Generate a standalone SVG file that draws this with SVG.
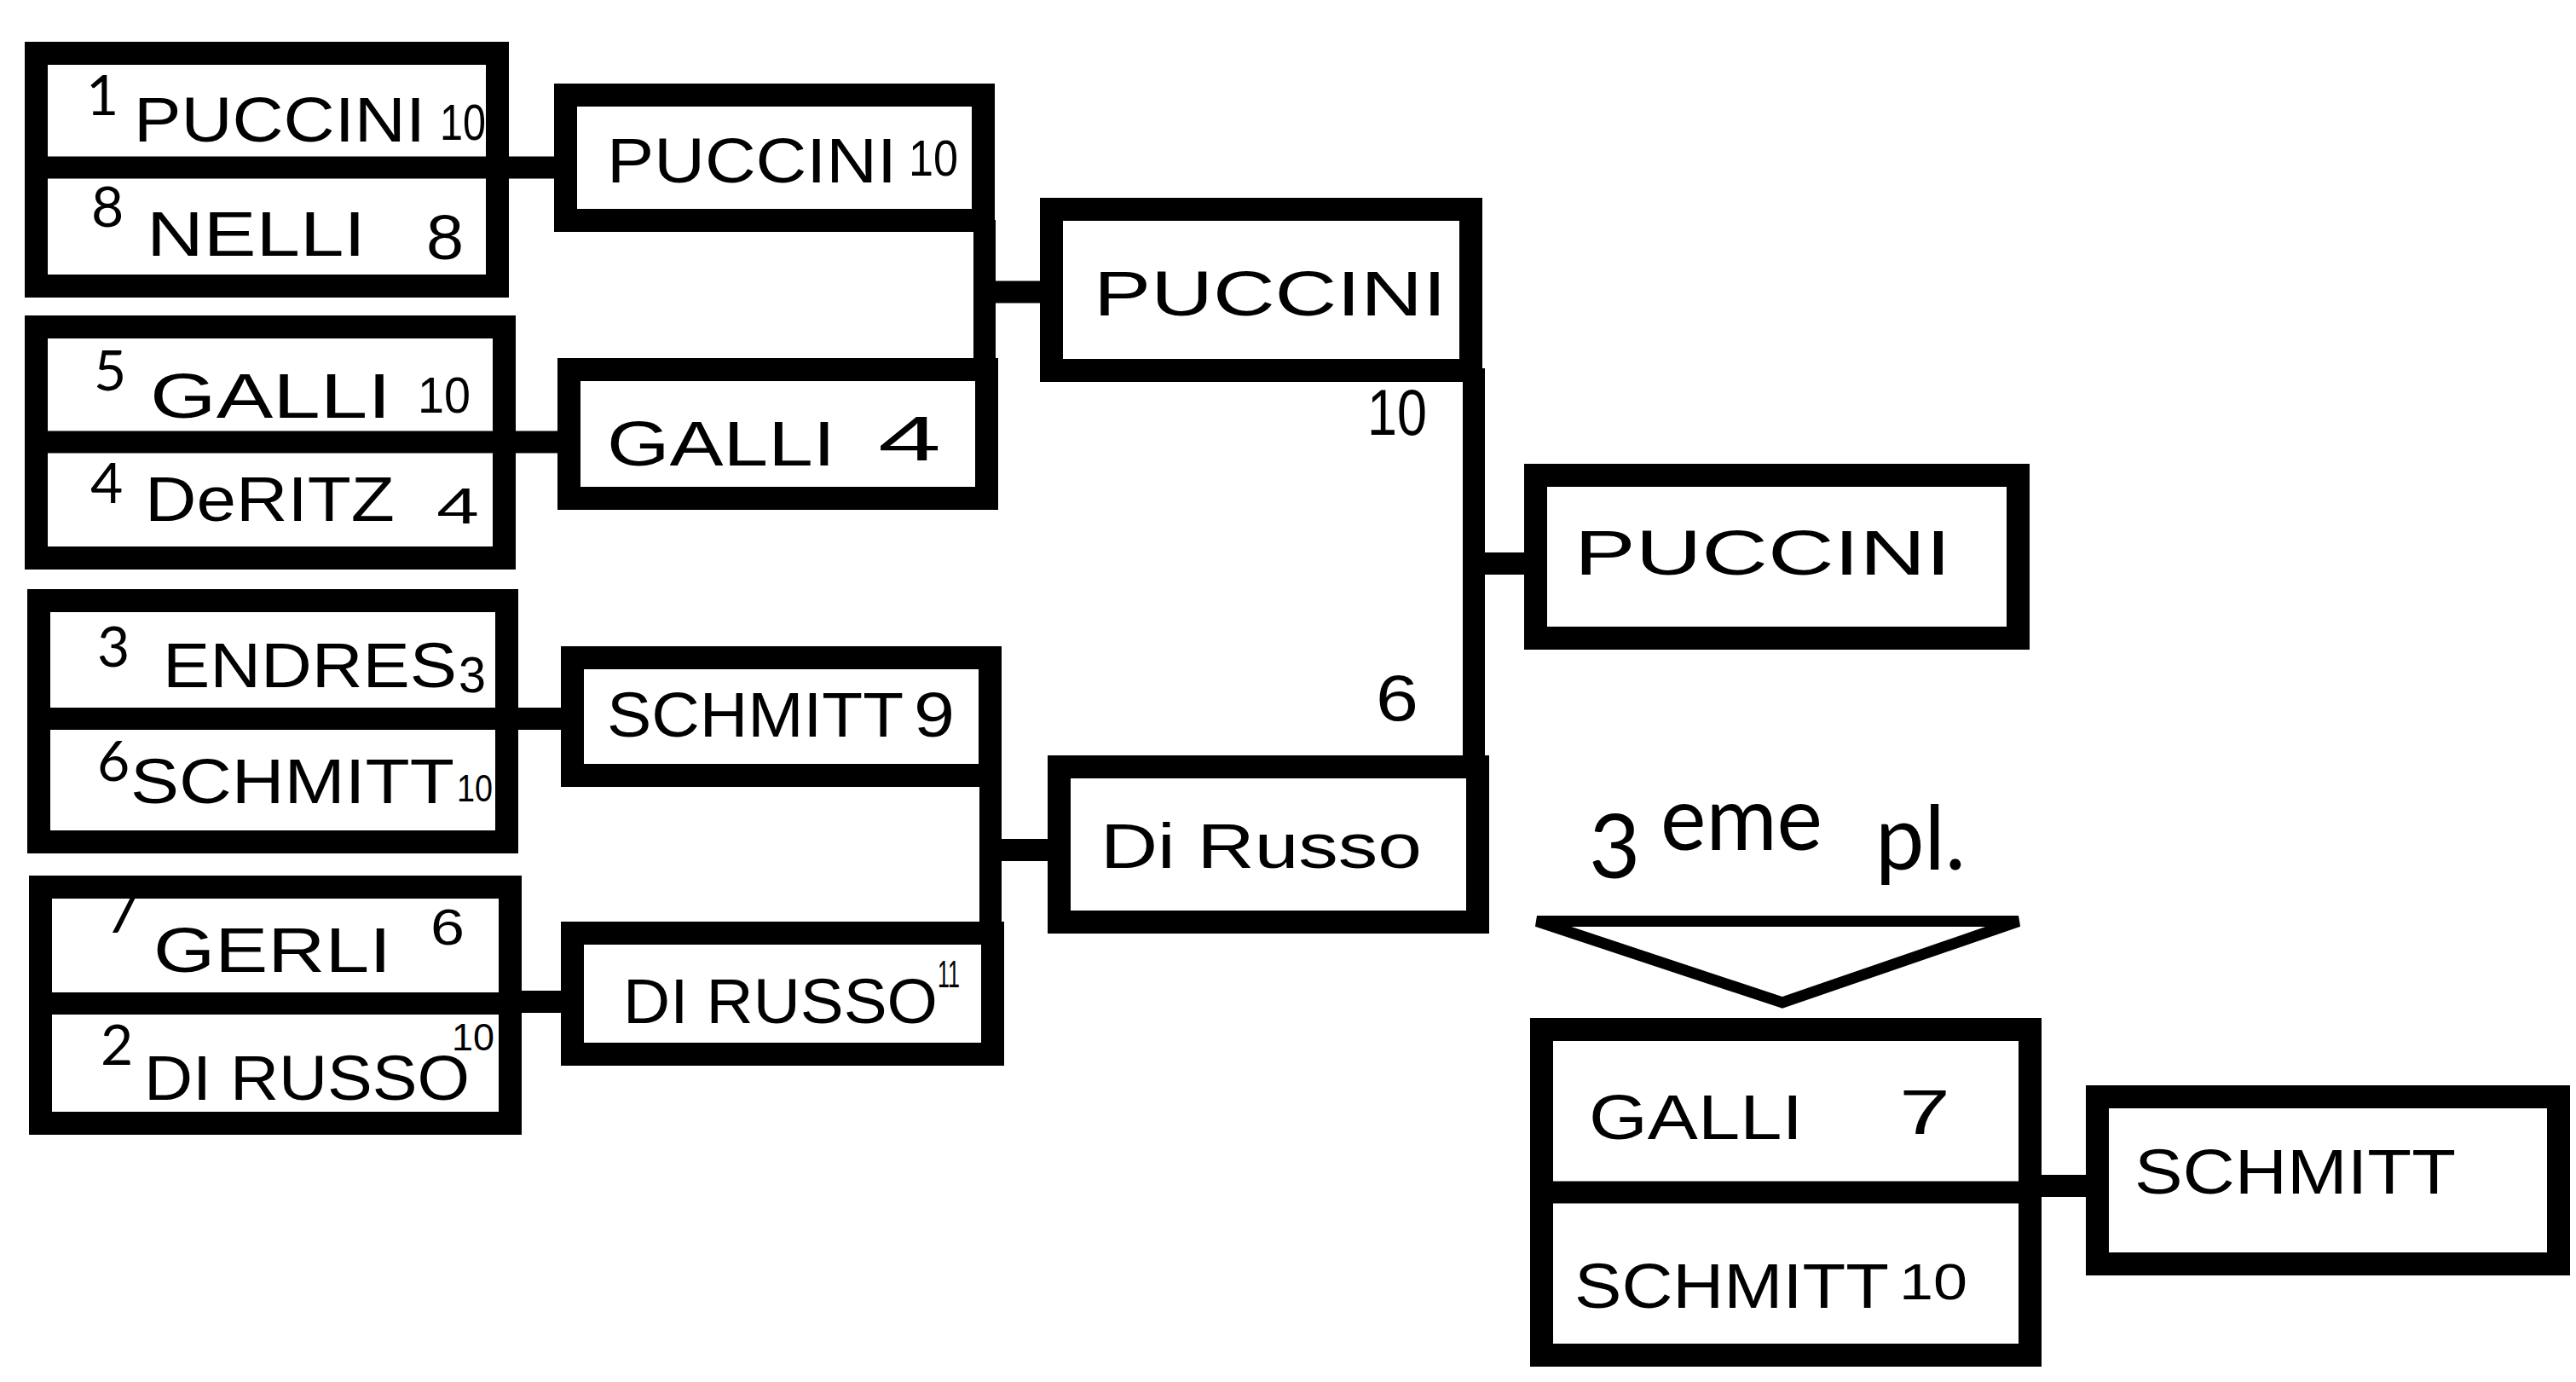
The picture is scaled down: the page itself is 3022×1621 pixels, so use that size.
<svg xmlns="http://www.w3.org/2000/svg" width="3022" height="1621" viewBox="0 0 3022 1621">
<style>
.box{fill:#fff;stroke:#000;stroke-width:27}
.div{stroke:#000;stroke-width:26;fill:none}
.conn{stroke:#000;stroke-width:26;fill:none}
.tri{fill:#fff;stroke:#000;stroke-width:13;stroke-linejoin:miter}
.seed{font-family:Lato,"Open Sans",sans-serif;font-size:66px;fill:#000}
.hw{font-family:"Liberation Sans",Arial,sans-serif;font-size:74px;fill:#000}
.sc{font-family:"Liberation Sans",Arial,sans-serif;font-size:60px;fill:#000}
.big{font-family:"Liberation Sans",Arial,sans-serif;font-size:76px;fill:#000}
.sup{font-family:"Liberation Sans",Arial,sans-serif;font-size:44px;fill:#000}
.lbl{font-family:Lato,"Open Sans",sans-serif;font-size:104px;fill:#000}
</style>
<rect width="3022" height="1621" fill="#fff"/>

<g id="connectors">
<line class="conn" x1="597" y1="196.5" x2="652" y2="196.5"/>
<line class="conn" x1="605" y1="518.5" x2="656" y2="518.5"/>
<line class="conn" x1="608" y1="843" x2="660" y2="843"/>
<line class="conn" x1="612" y1="1175" x2="660" y2="1175"/>
<line class="conn" x1="1155" y1="258" x2="1155" y2="436"/>
<line class="conn" x1="1155" y1="342.5" x2="1222" y2="342.5"/>
<line class="conn" x1="1162" y1="908" x2="1162" y2="1096"/>
<line class="conn" x1="1162" y1="997" x2="1231" y2="997"/>
<line class="conn" x1="1729" y1="432" x2="1729" y2="900"/>
<line class="conn" x1="1729" y1="661" x2="1790" y2="661"/>
<line class="conn" x1="2395" y1="1391" x2="2449" y2="1391"/>
</g>

<g id="r1-match1">
<rect class="box" x="42.5" y="62.5" width="541" height="273"/>
<line class="div" x1="29" y1="196.5" x2="597" y2="196.5"/>
<text class="seed" x="101" y="135">1</text>
<text class="hw" x="157" y="166" textLength="342" lengthAdjust="spacingAndGlyphs">PUCCINI</text>
<text class="sc" x="516" y="164" textLength="54" lengthAdjust="spacingAndGlyphs">10</text>
<text class="seed" x="107" y="266">8</text>
<text class="hw" x="172" y="300" textLength="257" lengthAdjust="spacingAndGlyphs">NELLI</text>
<text class="hw" x="500" y="304" textLength="44" lengthAdjust="spacingAndGlyphs">8</text>
</g>

<g id="r1-match2">
<rect class="box" x="42.5" y="383.5" width="549" height="271"/>
<line class="div" x1="29" y1="518.5" x2="605" y2="518.5"/>
<text class="seed" x="110" y="458">5</text>
<text class="hw" x="176" y="490" textLength="283" lengthAdjust="spacingAndGlyphs">GALLI</text>
<text class="sc" x="490" y="484" textLength="62" lengthAdjust="spacingAndGlyphs">10</text>
<text class="seed" x="106" y="590">4</text>
<text class="hw" x="170" y="611" textLength="293" lengthAdjust="spacingAndGlyphs">DeRITZ</text>
<text class="sc" x="512" y="614" textLength="50" lengthAdjust="spacingAndGlyphs">4</text>
</g>

<g id="r1-match3">
<rect class="box" x="45.5" y="704.5" width="549" height="283"/>
<line class="div" x1="32" y1="843" x2="608" y2="843"/>
<text class="seed" x="114" y="782">3</text>
<text class="hw" x="191" y="806" textLength="345" lengthAdjust="spacingAndGlyphs">ENDRES</text>
<text class="sc" x="538" y="812" textLength="32" lengthAdjust="spacingAndGlyphs">3</text>
<text class="seed" x="114" y="916">6</text>
<text class="hw" x="153" y="942" textLength="380" lengthAdjust="spacingAndGlyphs">SCHMITT</text>
<text class="sup" x="536" y="940" textLength="42" lengthAdjust="spacingAndGlyphs">10</text>
</g>

<g id="r1-match4">
<rect class="box" x="47.5" y="1040.5" width="551" height="277"/>
<line class="div" x1="34" y1="1177" x2="612" y2="1177"/>
<text class="seed" x="124" y="1094">7</text>
<text class="hw" x="180" y="1140" textLength="279" lengthAdjust="spacingAndGlyphs">GERLI</text>
<text class="sc" x="505" y="1108" textLength="40" lengthAdjust="spacingAndGlyphs">6</text>
<text class="seed" x="118" y="1249">2</text>
<text class="hw" x="169" y="1290" textLength="382" lengthAdjust="spacingAndGlyphs">DI RUSSO</text>
<text class="sup" x="530" y="1232" textLength="50" lengthAdjust="spacingAndGlyphs">10</text>
</g>

<g id="r2-top1">
<rect class="box" x="663.5" y="111.5" width="490" height="147"/>
<text class="hw" x="712" y="214" textLength="340" lengthAdjust="spacingAndGlyphs">PUCCINI</text>
<text class="sc" x="1066" y="206" textLength="58" lengthAdjust="spacingAndGlyphs">10</text>
</g>

<g id="r2-top2">
<rect class="box" x="667.5" y="433.5" width="490" height="151"/>
<text class="hw" x="712" y="546" textLength="268" lengthAdjust="spacingAndGlyphs">GALLI</text>
<text class="hw" x="1030" y="540" textLength="74" lengthAdjust="spacingAndGlyphs">4</text>
</g>

<g id="r2-bottom1">
<rect class="box" x="671.5" y="771.5" width="490" height="138"/>
<text class="hw" x="712" y="864" textLength="348" lengthAdjust="spacingAndGlyphs">SCHMITT</text>
<text class="hw" x="1072" y="864" textLength="48" lengthAdjust="spacingAndGlyphs">9</text>
</g>

<g id="r2-bottom2">
<rect class="box" x="671.5" y="1094.5" width="493" height="142"/>
<text class="hw" x="731" y="1200" textLength="369" lengthAdjust="spacingAndGlyphs">DI RUSSO</text>
<text class="sup" x="1100" y="1158" textLength="26" lengthAdjust="spacingAndGlyphs">11</text>
</g>

<g id="r3-top">
<rect class="box" x="1233.5" y="245.5" width="492" height="189"/>
<text class="hw" x="1283" y="370" textLength="414" lengthAdjust="spacingAndGlyphs">PUCCINI</text>
<text class="big" x="1604" y="510" textLength="70" lengthAdjust="spacingAndGlyphs">10</text>
</g>

<g id="r3-bottom">
<rect class="box" x="1242.5" y="899.5" width="491" height="182"/>
<text class="hw" x="1291" y="1018" textLength="377" lengthAdjust="spacingAndGlyphs">Di Russo</text>
<text class="big" x="1614" y="845" textLength="50" lengthAdjust="spacingAndGlyphs">6</text>
</g>

<g id="final">
<rect class="box" x="1801.5" y="557.5" width="566" height="191"/>
<text class="hw" x="1847" y="674" textLength="442" lengthAdjust="spacingAndGlyphs">PUCCINI</text>
</g>

<g id="third-place-label">
<text class="lbl" x="1864" y="1030">3</text>
<text class="lbl" x="1948" y="997" textLength="190" lengthAdjust="spacingAndGlyphs">eme</text>
<text class="lbl" x="2200" y="1020" textLength="106" lengthAdjust="spacingAndGlyphs">pl.</text>
<polygon class="tri" points="1803,1080.5 2368,1080.5 2091,1176"/>
</g>

<g id="third-place-match">
<rect class="box" x="1808.5" y="1207.5" width="573" height="382"/>
<line class="div" x1="1795" y1="1398.5" x2="2395" y2="1398.5"/>
<text class="hw" x="1864" y="1336" textLength="251" lengthAdjust="spacingAndGlyphs">GALLI</text>
<text class="hw" x="2228" y="1330" textLength="60" lengthAdjust="spacingAndGlyphs">7</text>
<text class="hw" x="1847" y="1534" textLength="369" lengthAdjust="spacingAndGlyphs">SCHMITT</text>
<text class="sc" x="2228" y="1524" textLength="80" lengthAdjust="spacingAndGlyphs">10</text>
</g>

<g id="third-place-winner">
<rect class="box" x="2460.5" y="1286.5" width="541" height="196"/>
<text class="hw" x="2504" y="1400" textLength="377" lengthAdjust="spacingAndGlyphs">SCHMITT</text>
</g>
</svg>
